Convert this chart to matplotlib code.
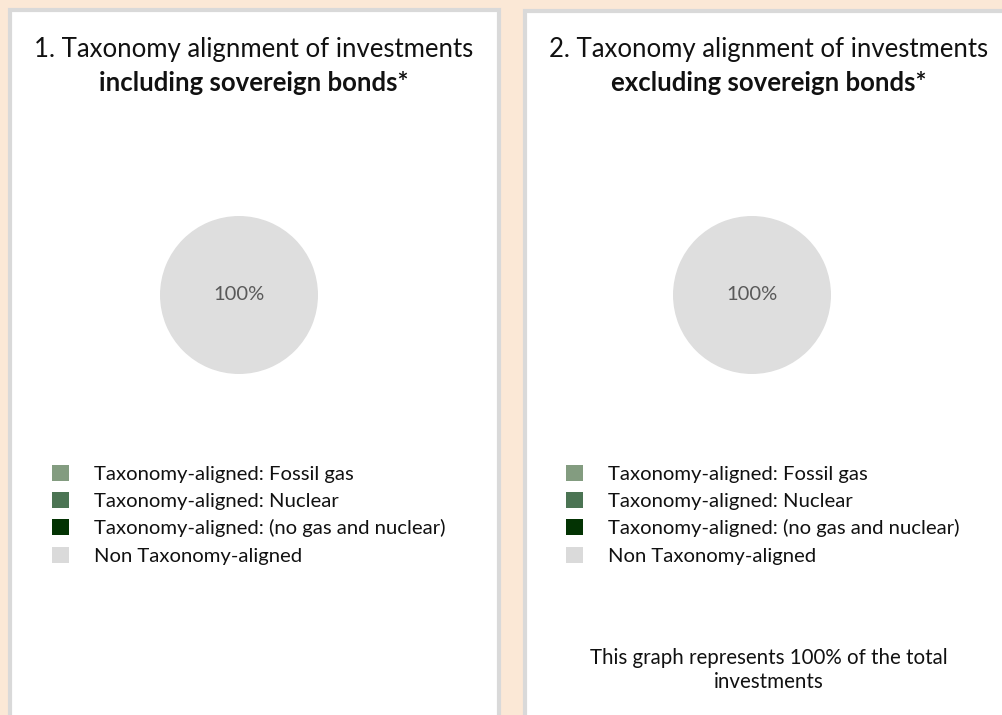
import matplotlib.pyplot as plt
from matplotlib.patches import Rectangle, Patch

plt.rcParams['font.family'] = ['Lato', 'DejaVu Sans']

W, H = 1002, 715

# data
categories = ["Taxonomy-aligned: Fossil gas",
              "Taxonomy-aligned: Nuclear",
              "Taxonomy-aligned: (no gas and nuclear)",
              "Non Taxonomy-aligned"]
colors = ["#839c80", "#4b7453", "#033303", "#dadada"]
incl_values = [0, 0, 0, 100]
excl_values = [0, 0, 0, 100]
titles = [("1. Taxonomy alignment of investments", "including sovereign bonds*"),
          ("2. Taxonomy alignment of investments", "excluding sovereign bonds*")]
footnote = "This graph represents 100% of the total\ninvestments"

BG = "#fbe8d6"
BORDER = "#d9d9d9"
PIE_GREY = "#dedede"


def fx(px):
    return px / W


def fy(py):
    return 1 - py / H


fig = plt.figure(figsize=(W / 100, H / 100), dpi=100)
fig.patch.set_facecolor(BG)

# panels (left edge, right edge, top) in pixels
panels = [(9.5, 499, 9.5), (525, 1010, 11)]
for x0, x1, y0 in panels:
    fig.patches.append(Rectangle((fx(x0), -0.05), fx(x1 - x0), fy(y0) + 0.05, transform=fig.transFigure,
                                 facecolor="white", edgecolor=BORDER, linewidth=3, zorder=-5))

pie_centers = [239, 752]
legend_x = [52, 566]
values_list = [incl_values, excl_values]
colors_pie = colors[:3] + [PIE_GREY]

for i in range(2):
    cx_title = [254, 769][i]
    fig.text(fx(cx_title), fy(49), titles[i][0], ha="center", va="center", fontsize=18.5, color="#111111")
    fig.text(fx(cx_title), fy(83), titles[i][1], ha="center", va="center", fontsize=18.5,
             fontweight="bold", color="#111111")

    r = 79
    cx = pie_centers[i]
    ax = fig.add_axes([fx(cx - r), fy(295 + r), fx(2 * r), 2 * r / H])
    vals = values_list[i]
    ax.pie(vals, colors=colors_pie, startangle=90, counterclock=False,
           wedgeprops=dict(linewidth=0))
    ax.set_xlim(-1, 1)
    ax.set_ylim(-1, 1)
    ax.set_aspect("equal")
    ax.axis("off")
    total = sum(vals)
    for v in vals:
        if v > 0:
            ax.text(0, 0, f"{v / total * 100:.0f}%", ha="center", va="center",
                    fontsize=14.5, color="#595959")

    handles = [Patch(facecolor=c, edgecolor="none") for c in colors]
    fig.legend(handles, categories, loc="upper left",
               bbox_to_anchor=(fx(legend_x[i]), fy(465)), frameon=False,
               fontsize=14.6, handlelength=0.84, handleheight=0.84,
               handletextpad=1.23, labelspacing=0.45, borderpad=0, borderaxespad=0,
               labelcolor="#111111")

fig.text(fx(769), fy(670), footnote, ha="center", va="center", fontsize=14.8,
         color="#111111", linespacing=1.22)

fig.savefig("out.png", dpi=100, facecolor=BG)
